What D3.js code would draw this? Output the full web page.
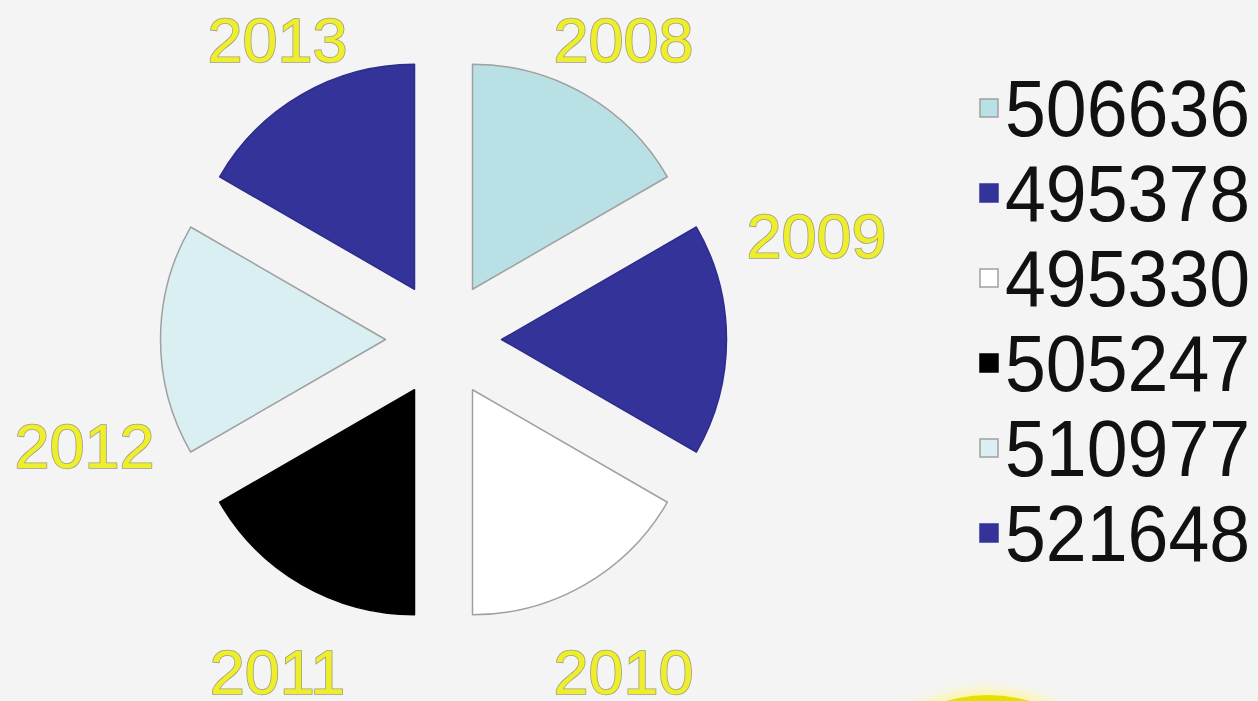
<!DOCTYPE html>
<html>
<head>
<meta charset="utf-8">
<script src="https://cdn.jsdelivr.net/npm/d3@7"></script>
<style>
  html, body { margin: 0; padding: 0; background: #f4f4f4; overflow: hidden; }
  svg { display: block; }
</style>
</head>
<body>
<svg id="chart"></svg>
<script>
var years = ["2008", "2009", "2010", "2011", "2012", "2013"];
var values = [506636, 495378, 495330, 505247, 510977, 521648];
// the pie draws every year as an equal sixth; the values only name the legend
var shares = [1, 1, 1, 1, 1, 1];
var colors = ["#b9e0e4", "#333399", "#ffffff", "#000000", "#d9eff1", "#333399"];

var width = 1258, height = 701;

var svg = d3.select("#chart")
  .attr("width", width)
  .attr("height", height);

svg.append("rect")
  .attr("width", width)
  .attr("height", height)
  .style("fill", "#f4f4f4");

var defs = svg.append("defs");
defs.append("filter")
  .attr("id", "glow")
  .attr("x", "-50%").attr("y", "-50%")
  .attr("width", "200%").attr("height", "200%")
  .append("feGaussianBlur")
  .attr("stdDeviation", 6);

// yellow badge peeking in at the bottom
svg.append("circle")
  .attr("cx", 988).attr("cy", 846).attr("r", 156)
  .style("fill", "#fff7a0")
  .attr("filter", "url(#glow)");
svg.append("circle")
  .attr("cx", 988).attr("cy", 846).attr("r", 151)
  .style("fill", "#e6e000");

var cx = 443.5, cy = 339.5,
  radius = 225,
  explode = 58;

var data = years.map(function(y, i) {
  return { year: y, value: values[i], share: shares[i], color: colors[i] };
});

var pie = d3.pie()
  .sort(null)
  .value(function(d) { return d.share; });

var arc = d3.arc()
  .innerRadius(0)
  .outerRadius(radius);

var arcs = pie(data);

var canvas = svg.append("g")
  .attr("transform", "translate(" + cx + "," + cy + ")");

function midAngle(d) {
  return (d.startAngle + d.endAngle) / 2;
}

canvas.selectAll(".slice")
  .data(arcs)
  .enter()
  .append("path")
  .attr("class", "slice")
  .attr("transform", function(d) {
    var a = midAngle(d);
    return "translate(" + (Math.sin(a) * explode) + "," + (-Math.cos(a) * explode) + ")";
  })
  .attr("d", arc)
  .style("fill", function(d) { return d.data.color; })
  .style("stroke", function(d) {
    return d.data.color == "#333399" ? "#2c2c8a" : (d.data.color == "#000000" ? "#000" : "#a0a0a0");
  })
  .style("stroke-width", 1.5)
  .style("stroke-linejoin", "round");

// year labels sit on an ellipse round the pie; side labels are lifted/dropped like the original
var labelRx = 346, labelRy = 365, labelDx = 7, labelDy = 16;
var labelShift = { "2009": [20, -120], "2012": [-20, 90] };

canvas.selectAll(".year")
  .data(arcs)
  .enter()
  .append("text")
  .attr("class", "year")
  .attr("x", function(d) {
    var s = labelShift[d.data.year] || [0, 0];
    return labelDx + Math.sin(midAngle(d)) * labelRx + s[0];
  })
  .attr("y", function(d) {
    var s = labelShift[d.data.year] || [0, 0];
    return labelDy - Math.cos(midAngle(d)) * labelRy + s[1];
  })
  .attr("dy", "0.36em")
  .style("font-family", "'Liberation Sans', Arial, sans-serif")
  .style("font-size", "63px")
  .style("fill", "#eeee2c")
  .style("stroke", "#9c9c84")
  .style("stroke-width", 1.6)
  .style("paint-order", "stroke")
  .style("text-anchor", "middle")
  .text(function(d) { return d.data.year; });

// legend
var legend = svg.selectAll(".legend")
  .data(data)
  .enter().append("g")
  .attr("class", "legend")
  .attr("transform", function(d, i) {
    return "translate(980," + (108 + i * 85) + ")";
  });

legend.append("rect")
  .attr("x", 0)
  .attr("y", -9)
  .attr("width", 18)
  .attr("height", 18)
  .style("fill", function(d) { return d.color; })
  .style("stroke", function(d) {
    return d.color == "#333399" ? "#333399" : (d.color == "#000000" ? "#000" : "#a0a0a0");
  })
  .style("stroke-width", 1.5);

legend.append("text")
  .attr("transform", "translate(25,0) scale(0.93,1)")
  .attr("dy", "0.36em")
  .style("font-family", "'Liberation Sans', Arial, sans-serif")
  .style("font-size", "79px")
  .style("fill", "#111")
  .text(function(d) { return d.value; });
</script>
</body>
</html>
